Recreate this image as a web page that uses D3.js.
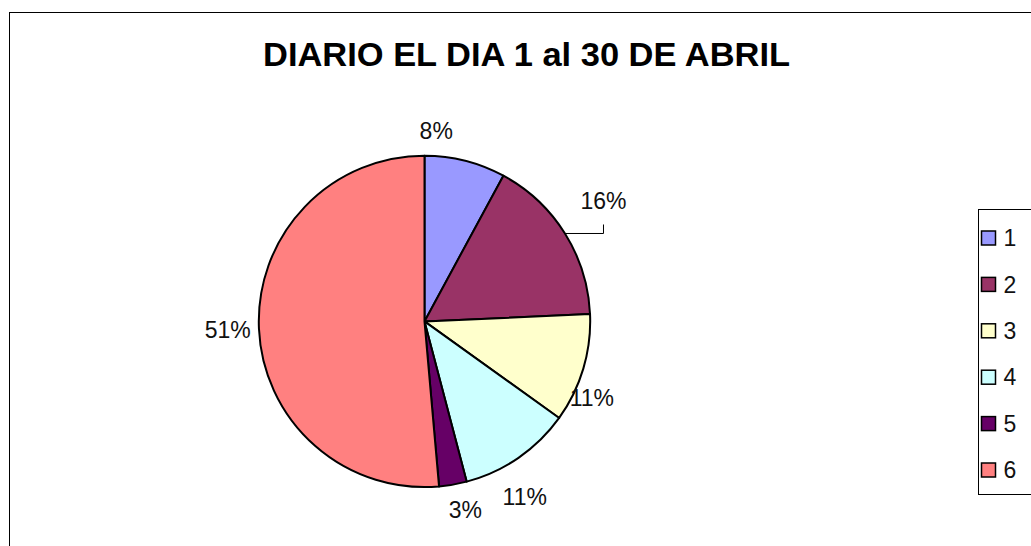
<!DOCTYPE html>
<html>
<head>
<meta charset="utf-8">
<script src="https://cdn.jsdelivr.net/npm/d3@7"></script>
<style>
  html, body { margin: 0; padding: 0; background: #fff; }
  svg { display: block; font-family: Arial, "Liberation Sans", sans-serif; }
</style>
</head>
<body>
<div class="chart-container"></div>
<script>
const title = 'DIARIO EL DIA 1 al 30 DE ABRIL'
const categories = ['1', '2', '3', '4', '5', '6']
const values = [7.9, 16.4, 10.6, 11.0, 2.7, 51.4]
const colors = ['#9999FF', '#993366', '#FFFFCC', '#CCFFFF', '#660066', '#FF8080']

// label placement: angle shift from slice middle (degrees) and distance from centre
const labelLayout = [
    {shift: -10.7, r: 191},
    {shift: -2, r: 216, leader: true},
    {shift: 8, r: 184},
    {shift: 4.8, r: 202},
    {shift: -2.3, r: 193},
    {shift: 0, r: 197}
]

const width = 1031, height = 546
const cx = 424.5, cy = 321.4, radius = 165.7

const data = categories.map((c, i) => ({cat: c, value: values[i], color: colors[i]}))
const total = d3.sum(values)

const svg = d3.select('.chart-container').append('svg')
    .attr('width', width)
    .attr('height', height)

// outer chart border (runs past the right/bottom edge)
svg.append('rect')
    .attr('x', 9.5).attr('y', 12.5)
    .attr('width', 1100).attr('height', 600)
    .attr('fill', '#fff')
    .attr('stroke', '#000')
    .attr('stroke-width', 1)

svg.append('text')
    .attr('x', 263).attr('y', 66)
    .attr('font-size', 33)
    .attr('font-weight', 'bold')
    .attr('textLength', 527)
    .attr('lengthAdjust', 'spacingAndGlyphs')
    .text(title)

const pie = d3.pie().sort(null).value(d => d.value)
const arcs = pie(data)
const arc = d3.arc().innerRadius(0).outerRadius(radius)

const g = svg.append('g').attr('transform', `translate(${cx},${cy})`)

g.selectAll('.slice')
    .data(arcs)
    .enter()
    .append('path')
    .classed('slice', true)
    .attr('d', arc)
    .attr('fill', d => d.data.color)
    .attr('stroke', '#000')
    .attr('stroke-width', 2)
    .attr('stroke-linejoin', 'round')

const polar = (ang, r) => [Math.sin(ang) * r, -Math.cos(ang) * r]

arcs.forEach((d, i) => {
    const lay = labelLayout[i]
    const mid = (d.startAngle + d.endAngle) / 2
    const ang = mid + lay.shift * Math.PI / 180
    const [lx, ly] = polar(ang, lay.r)

    g.append('text')
        .attr('x', lx).attr('y', ly)
        .attr('dy', '0.36em')
        .attr('text-anchor', 'middle')
        .attr('font-size', 23)
        .attr('fill', '#111')
        .text(Math.round(d.value / total * 100) + '%')

    if (lay.leader) {
        const [px, py] = polar(mid, radius)
        g.append('path')
            .attr('d', `M${px},${py}H${lx}V${ly + 24}`)
            .attr('fill', 'none')
            .attr('stroke', '#000')
            .attr('stroke-width', 1)
    }
})

// legend
const legend = svg.append('g').attr('transform', 'translate(978.5,209.5)')
legend.append('rect')
    .attr('width', 100).attr('height', 285)
    .attr('fill', '#fff')
    .attr('stroke', '#000')
    .attr('stroke-width', 1)

const ly = d3.scalePoint()
    .domain(categories)
    .range([28.5, 260.5])

const items = legend.selectAll('.item')
    .data(data)
    .enter()
    .append('g')
    .classed('item', true)
    .attr('transform', d => `translate(0,${ly(d.cat)})`)

items.append('rect')
    .attr('x', 3).attr('y', -7)
    .attr('width', 14).attr('height', 14)
    .attr('fill', d => d.color)
    .attr('stroke', '#000')
    .attr('stroke-width', 1.5)

items.append('text')
    .attr('x', 25)
    .attr('dy', '0.36em')
    .attr('font-size', 23)
    .attr('fill', '#111')
    .text(d => d.cat)
</script>
</body>
</html>
